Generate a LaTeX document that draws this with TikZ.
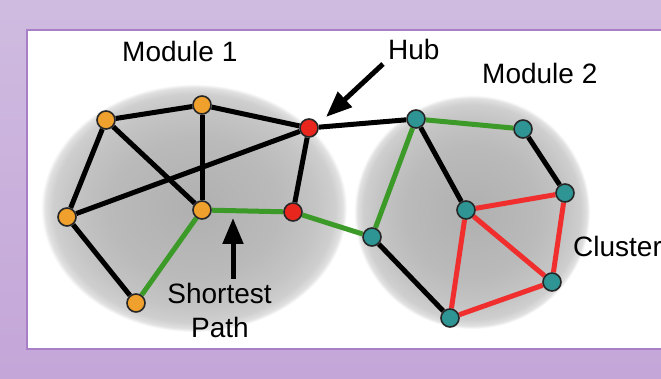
\documentclass[tikz,border=0pt]{standalone}
\usepackage{fontspec}
\setmainfont{Liberation Sans}
\usetikzlibrary{arrows.meta}
\definecolor{bgtop}{HTML}{CFBBE0}
\definecolor{bgbot}{HTML}{C4A6D8}
\definecolor{panelborder}{HTML}{A67FC6}
\definecolor{orangefill}{HTML}{F0A02C}
\definecolor{redfill}{HTML}{E8261E}
\definecolor{tealfill}{HTML}{2E9494}
\definecolor{greenedge}{HTML}{3C9A28}
\definecolor{rededge}{HTML}{F02E2E}
\pgfdeclareradialshading{blob}{\pgfpoint{0bp}{0bp}}{%
  color(0bp)=(black!31); color(14bp)=(black!27); color(20bp)=(black!23);
  color(23bp)=(black!19); color(24.3bp)=(black!12); color(25bp)=(white); color(50bp)=(white)}
\pgfdeclarelayer{bg}
\pgfdeclarelayer{edges}
\pgfsetlayers{bg,edges,main}
\tikzset{
  mnode/.style={circle, draw=black!85, line width=1.6pt, minimum size=18pt, inner sep=0pt},
  onode/.style={mnode, fill=orangefill},
  rnode/.style={mnode, fill=redfill},
  tnode/.style={mnode, fill=tealfill},
  blk/.style={line width=5pt, black},
  grn/.style={line width=5pt, greenedge},
  red/.style={line width=5pt, rededge},
  lbl/.style={font=\fontsize{28}{34}\selectfont, inner sep=0pt, text=black},
  bigarrow/.style={line width=5pt, -{Triangle[length=26pt,width=20pt]}}
}
\begin{document}
\begin{tikzpicture}[x=1pt,y=-1pt]
\useasboundingbox (0,0) rectangle (661,379);
\clip (0,0) rectangle (661,379);
\begin{pgfonlayer}{bg}
\shade[top color=bgtop, bottom color=bgbot] (0,0) rectangle (661,379);
\draw[draw=panelborder, line width=2pt, fill=white] (27,30) rectangle (680,349);
\shade[shading=blob] (194,208) ellipse [x radius=153, y radius=124];
\shade[shading=blob] (472,212) ellipse [x radius=118, y radius=117];
\end{pgfonlayer}
% module 1
\node[onode] (A) at (106,120) {};
\node[onode] (B) at (202,105) {};
\node[rnode] (hub) at (309,128) {};
\node[onode] (C) at (67,217) {};
\node[onode] (D) at (202,210) {};
\node[rnode] (E) at (293,212) {};
\node[onode] (F) at (136,303) {};
% module 2
\node[tnode] (G) at (416,119) {};
\node[tnode] (H) at (523,129) {};
\node[tnode] (I) at (565,193) {};
\node[tnode] (J) at (466,210) {};
\node[tnode] (K) at (372,237) {};
\node[tnode] (L) at (552,282) {};
\node[tnode] (M) at (450,318) {};
\begin{pgfonlayer}{edges}
\draw[blk] (A) -- (B);
\draw[blk] (B) -- (hub);
\draw[blk] (A) -- (C);
\draw[blk] (A) -- (D);
\draw[blk] (B) -- (D);
\draw[blk] (C) -- (hub);
\draw[blk] (hub) -- (E);
\draw[blk] (C) -- (F);
\draw[grn] (D) -- (E);
\draw[grn] (D) -- (F);
\draw[grn] (E) -- (K);
\draw[blk] (hub) -- (G);
\draw[grn] (G) -- (H);
\draw[grn] (G) -- (K);
\draw[blk] (G) -- (J);
\draw[blk] (H) -- (I);
\draw[blk] (K) -- (M);
\draw[red] (J) -- (I);
\draw[red] (J) -- (M);
\draw[red] (J) -- (L);
\draw[red] (I) -- (L);
\draw[red] (M) -- (L);
\end{pgfonlayer}
% labels
\node[lbl, anchor=base west] (m1) at (122,62) {Module 1};
\node[lbl, anchor=base west] (hubl) at (388,60) {Hub};
\node[lbl, anchor=base west] (m2) at (482,84) {Module 2};
\node[lbl, anchor=base] (sp1) at (219.5,303) {Shortest};
\node[lbl, anchor=base] (sp2) at (220,337) {Path};
\node[lbl, anchor=base west] (cl) at (573,257) {Cluster};
% arrows
\coordinate (hubtail) at (383,64);
\coordinate (hubtip) at (326,117);
\coordinate (sptail) at (233,279);
\coordinate (sptip) at (233,218);
\draw[bigarrow] (hubtail) -- (hubtip);
\draw[bigarrow] (sptail) -- (sptip);
\end{tikzpicture}
\end{document}
